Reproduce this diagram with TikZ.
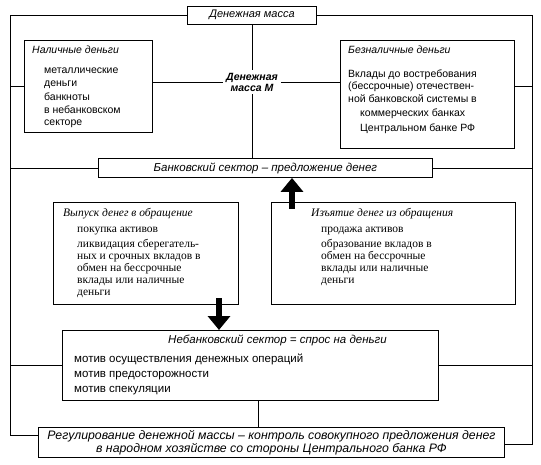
\documentclass[tikz,border=0pt]{standalone}
\usepackage{fontspec}
\setmainfont{Liberation Serif}
\setsansfont{Liberation Sans}
\usetikzlibrary{positioning, arrows.meta}

\begin{document}
\begin{tikzpicture}[x=1pt, y=-1pt,
  box/.style={draw, line width=0.9pt, inner sep=0pt, anchor=north west},
  stxt/.style={inner sep=0pt, anchor=north west, align=left,
    font=\sffamily\fontsize{10.5}{12.5}\selectfont},
  rtxt/.style={inner sep=0pt, anchor=north west, align=left,
    font=\rmfamily\fontsize{11.5}{12}\selectfont},
  link/.style={line width=0.8pt},
  fat/.style={line width=6pt, -{Triangle[width=22pt, length=14pt]}}]

  \useasboundingbox (0,0) rectangle (541,465);

  % frame corners
  \coordinate (tl) at (10,15);
  \coordinate (tr) at (532,15);
  \coordinate (bl) at (10,435);
  \coordinate (br) at (532,444);

  % money supply
  \node[box, anchor=center, minimum width=129pt, minimum height=18pt,
    font=\sffamily\itshape\fontsize{11}{12}\selectfont] (mass) at (252,15) {Денежная масса};
  \node[box, minimum width=128pt, minimum height=92pt] (nal) at (24,40) {};
  \node[box, minimum width=174pt, minimum height=108pt] (beznal) at (340,40) {};
  \node[inner sep=3pt, align=center,
    font=\sffamily\bfseries\itshape\fontsize{10.5}{11}\selectfont] (M) at (252,82) {Денежная\\масса М};

  \node[stxt, below right=6pt and 8pt of nal.north west] (nalT) {\itshape Наличные деньги};
  \node[stxt, below right=14pt and 12pt of nalT.south west] (nalL)
    {металлические\\деньги\\[2pt]банкноты\\в небанковском\\секторе};

  \node[stxt, below right=6pt and 8pt of beznal.north west] (bezT) {\itshape Безналичные деньги};
  \node[stxt, below right=15pt and 0pt of bezT.south west] (bezL)
    {Вклады до востребования\\(бессрочные) отечествен-\\ной банковской системы в\\[2pt]%
     \hspace*{12pt}коммерческих банках\\[2pt]\hspace*{12pt}Центральном банке РФ};

  % banking sector
  \node[box, minimum width=334pt, minimum height=19pt,
    font=\sffamily\itshape\fontsize{11.5}{12}\selectfont] (bank) at (98,158)
    {Банковский сектор – предложение денег};

  \node[box, minimum width=185pt, minimum height=102pt] (vyp) at (53,202) {};
  \node[box, minimum width=244pt, minimum height=102pt] (izy) at (271,202) {};

  \node[rtxt, below right=6pt and 10pt of vyp.north west] (vypT) {\itshape Выпуск денег в обращение};
  \node[rtxt, below right=8pt and 14pt of vypT.south west] (vypL)
    {покупка активов\\[3pt]ликвидация сберегатель-\\ных и срочных вкладов в\\обмен на бессрочные\\вклады или наличные\\деньги};

  \node[rtxt, below right=6pt and 40pt of izy.north west] (izyT) {\itshape Изъятие денег из обращения};
  \node[rtxt, below right=8pt and 10pt of izyT.south west] (izyL)
    {продажа активов\\[3pt]образование вкладов в\\обмен на бессрочные\\вклады или наличные\\деньги};

  % non-banking sector
  \node[box, minimum width=376pt, minimum height=70pt] (nebank) at (62,330) {};
  \node[stxt, font=\sffamily\itshape\fontsize{11.5}{12}\selectfont,
    below right=5pt and 106pt of nebank.north west] (nebT)
    {Небанковский сектор = спрос на деньги};
  \node[stxt, font=\sffamily\fontsize{11.5}{12}\selectfont,
    below right=7pt and 12pt of nebank.north west |- nebT.south] (nebL)
    {мотив осуществления денежных операций\\[3pt]мотив предосторожности\\[3pt]мотив спекуляции};

  \node[box, minimum width=466pt, minimum height=30pt, align=center,
    font=\sffamily\itshape\fontsize{12.3}{13}\selectfont] (reg) at (38,427)
    {Регулирование денежной массы – контроль совокупного предложения денег\\
     в народном хозяйстве со стороны Центрального банка РФ};

  % frame
  \draw[link] (mass.west) -- (tl) -- (bl) -- (reg.west |- bl);
  \draw[link] (mass.east) -- (tr) -- (br) -- (reg.east |- br);
  \draw[link] (tl |- nal.west) -- (nal.west);
  \draw[link] (beznal.east |- nal.west) -- (tr |- nal.west);
  \draw[link] (tl |- bank.west) -- (bank.west);
  \draw[link] (bank.east) -- (tr |- bank.east);
  \draw[link] (bl |- nebank.west) -- (nebank.west);
  \draw[link] (nebank.east) -- (br |- nebank.east);

  % inner links
  \draw[link] (mass.south) -- (M.north);
  \draw[link] (M.south) -- (M.south |- bank.north);
  \draw[link] (nal.east |- M.west) -- (M.west);
  \draw[link] (M.east) -- (beznal.west |- M.east);
  \draw[link] ([xshift=8pt]nebank.south) -- ([xshift=8pt]nebank.south |- reg.north);

  % flows
  \coordinate (upfoot) at (292,209);
  \coordinate (downfoot) at (219,298);
  \draw[fat] (upfoot) -- (upfoot |- bank.south);
  \draw[fat] (downfoot) -- (downfoot |- nebank.north);
\end{tikzpicture}
\end{document}
